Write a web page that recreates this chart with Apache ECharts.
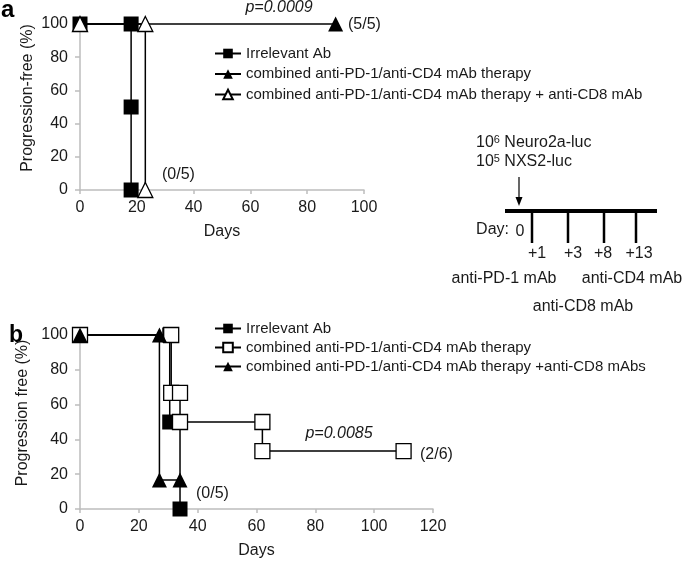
<!DOCTYPE html>
<html><head><meta charset="utf-8">
<script src="https://cdn.jsdelivr.net/npm/echarts@6/dist/echarts.min.js"></script>
<style>html,body{margin:0;padding:0;background:#fff}#c{width:685px;height:561px}</style>
</head><body><div id="c"></div>
<script>
// ---------- data ----------
const namesA = ['Irrelevant Ab', 'combined anti-PD-1/anti-CD4 mAb therapy', 'combined anti-PD-1/anti-CD4 mAb therapy + anti-CD8 mAb'];
const namesB = ['Irrelevant Ab', 'combined anti-PD-1/anti-CD4 mAb therapy', 'combined anti-PD-1/anti-CD4 mAb therapy +anti-CD8 mAbs'];
// Panel a (days, % progression-free)
const aIrrelevant   = [[0,100],[18,100],[18,50],[18,0]];
const aCombined     = [[0,100],[90,100]];
const aCombinedCD8  = [[0,100],[23,100],[23,0]];
// Panel b
const bIrrelevant   = [[0,100],[30.5,100],[30.5,50],[34,50],[34,0]];
const bCombined     = [[0,100],[31,100],[31,66.7],[34,66.7],[34,50],[62,50],[62,33.3],[110,33.3]];
const bCombinedCD8  = [[0,100],[27,100],[27,16.7],[34,16.7]];
const xMaxA = 100, xMaxB = 120, yMax = 100, tickStep = 20;
const yNameA = 'Progression-free (%)', yNameB = 'Progression free (%)', xName = 'Days';
const annotA = {p: 'p=0.0009', top: '(5/5)', bottom: '(0/5)'};
const annotB = {p: 'p=0.0085', top: '(2/6)', bottom: '(0/5)'};
const timelineDays = ['+1','+3','+8','+13'];
const treatments = ['anti-PD-1 mAb','anti-CD4 mAb','anti-CD8 mAb'];

// ---------- styles ----------
const ff = '"Liberation Sans", Arial, sans-serif';
const txt = '#1a1a1a', axisC = '#bdbdbd', ink = '#000';

function xAx(g, max){ return {type:'value', gridIndex:g, min:0, max:max, interval:tickStep,
  name:xName, nameLocation:'middle', nameGap:34,
  nameTextStyle:{fontSize:16, color:txt, fontFamily:ff},
  axisLine:{lineStyle:{color:axisC, width:1.5}},
  axisTick:{show:true, length:4, lineStyle:{color:axisC, width:1.5}},
  axisLabel:{fontSize:16, color:txt, margin:10, fontFamily:ff},
  splitLine:{show:false}}; }
function yAx(g, name){ return {type:'value', gridIndex:g, min:0, max:yMax, interval:tickStep,
  name:name, nameLocation:'middle', nameGap:44,
  nameTextStyle:{fontSize:16, color:txt, fontFamily:ff, padding:[0,0,0,18]},
  axisLine:{show:true, lineStyle:{color:axisC, width:1.5}},
  axisTick:{show:true, length:5, lineStyle:{color:axisC, width:1.5}},
  axisLabel:{fontSize:16, color:txt, margin:12, fontFamily:ff},
  splitLine:{show:false}}; }
function ser(name, g, data, symbol, open, size){ return {type:'line', name:name, xAxisIndex:g, yAxisIndex:g,
  data:data, symbol:symbol, symbolSize:size, showAllSymbol:true, clip:false,
  lineStyle:{color:ink, width:1.5},
  itemStyle:{color: open ? '#fff' : ink, borderColor:ink, borderWidth: open ? 1.3 : 0},
  emphasis:{disabled:true}, animation:false}; }

const pa = n => 'a:' + n, pb = n => 'b:' + n;

const chart = echarts.init(document.getElementById('c'), null, {renderer:'canvas'});
const T = (text, x, y, o) => Object.assign({type:'text', silent:true, style:Object.assign({text:text, x:x, y:y,
  fill:txt, fontSize:16, fontFamily:ff, textAlign:'left', textVerticalAlign:'middle'}, o||{})});
const L = (x1,y1,x2,y2,w) => ({type:'line', silent:true, shape:{x1,y1,x2,y2}, style:{stroke:ink, lineWidth:w}});

const tickX = [532,568,604,636], labelX = [537,573,603,639];
const supRich = {n:{fontSize:16, fontFamily:ff, fill:txt, lineHeight:18}, s:{fontSize:11, fontFamily:ff, fill:txt, verticalAlign:'top', lineHeight:18}};
const graphics = [
  T('a', 1, 10, {fontSize:24, fontWeight:'bold', fill:'#000'}),
  T('b', 9, 336, {fontSize:23, fontWeight:'bold', fill:'#000'}),
  T(annotA.p, 279, 8, {textAlign:'center', fontStyle:'italic'}),
  T(annotA.top, 348, 25),
  T(annotA.bottom, 162, 175),
  T(annotB.p, 339, 434, {textAlign:'center', fontStyle:'italic'}),
  T(annotB.top, 420, 455),
  T(annotB.bottom, 196, 494),
  // timeline schematic
  T('{n|10}{s|6}{n| Neuro2a-luc}', 476, 143, {rich:supRich}),
  T('{n|10}{s|5}{n| NXS2-luc}', 476, 162, {rich:supRich}),
  L(519,177,519,199,1.2),
  {type:'polygon', silent:true, shape:{points:[[515.5,197],[522.5,197],[519,206]]}, style:{fill:ink}},
  L(505,211,657,211,4),
  T('Day:', 509, 230, {textAlign:'right'}),
  T('0', 520, 232, {textAlign:'center'}),
  T(treatments[0], 504, 279, {textAlign:'center'}),
  T(treatments[1], 632, 279, {textAlign:'center'}),
  T(treatments[2], 583, 307, {textAlign:'center'})
];
timelineDays.forEach((d,i)=>{ graphics.push(L(tickX[i],211,tickX[i],243,2.5)); graphics.push(T(d, labelX[i], 254, {textAlign:'center'})); });

const legendBase = {orient:'vertical', itemWidth:26, itemHeight:12, selectedMode:false,
  formatter: n => n.slice(2), textStyle:{fontSize:15, color:txt, fontFamily:ff, lineHeight:15}};

chart.setOption({
  animation:false,
  backgroundColor:'#fff',
  grid:[{left:80, top:24, width:284, height:166}, {left:80, top:335, width:353, height:174}],
  xAxis:[xAx(0, xMaxA), xAx(1, xMaxB)],
  yAxis:[yAx(0, yNameA), yAx(1, yNameB)],
  legend:[Object.assign({left:209, top:41, itemGap:5.5, data:namesA.map(pa)}, legendBase),
          Object.assign({left:209, top:316, itemGap:4, data:namesB.map(pb)}, legendBase)],
  series:[
    ser(pa(namesA[1]), 0, aCombined, 'triangle', false, 15),
    ser(pa(namesA[0]), 0, aIrrelevant, 'rect', false, 15),
    ser(pa(namesA[2]), 0, aCombinedCD8, 'triangle', true, 15),
    ser(pb(namesB[0]), 1, bIrrelevant, 'rect', false, 15),
    ser(pb(namesB[1]), 1, bCombined, 'rect', true, 15),
    ser(pb(namesB[2]), 1, bCombinedCD8, 'triangle', false, 15)
  ],
  graphic: graphics
});
</script></body></html>
